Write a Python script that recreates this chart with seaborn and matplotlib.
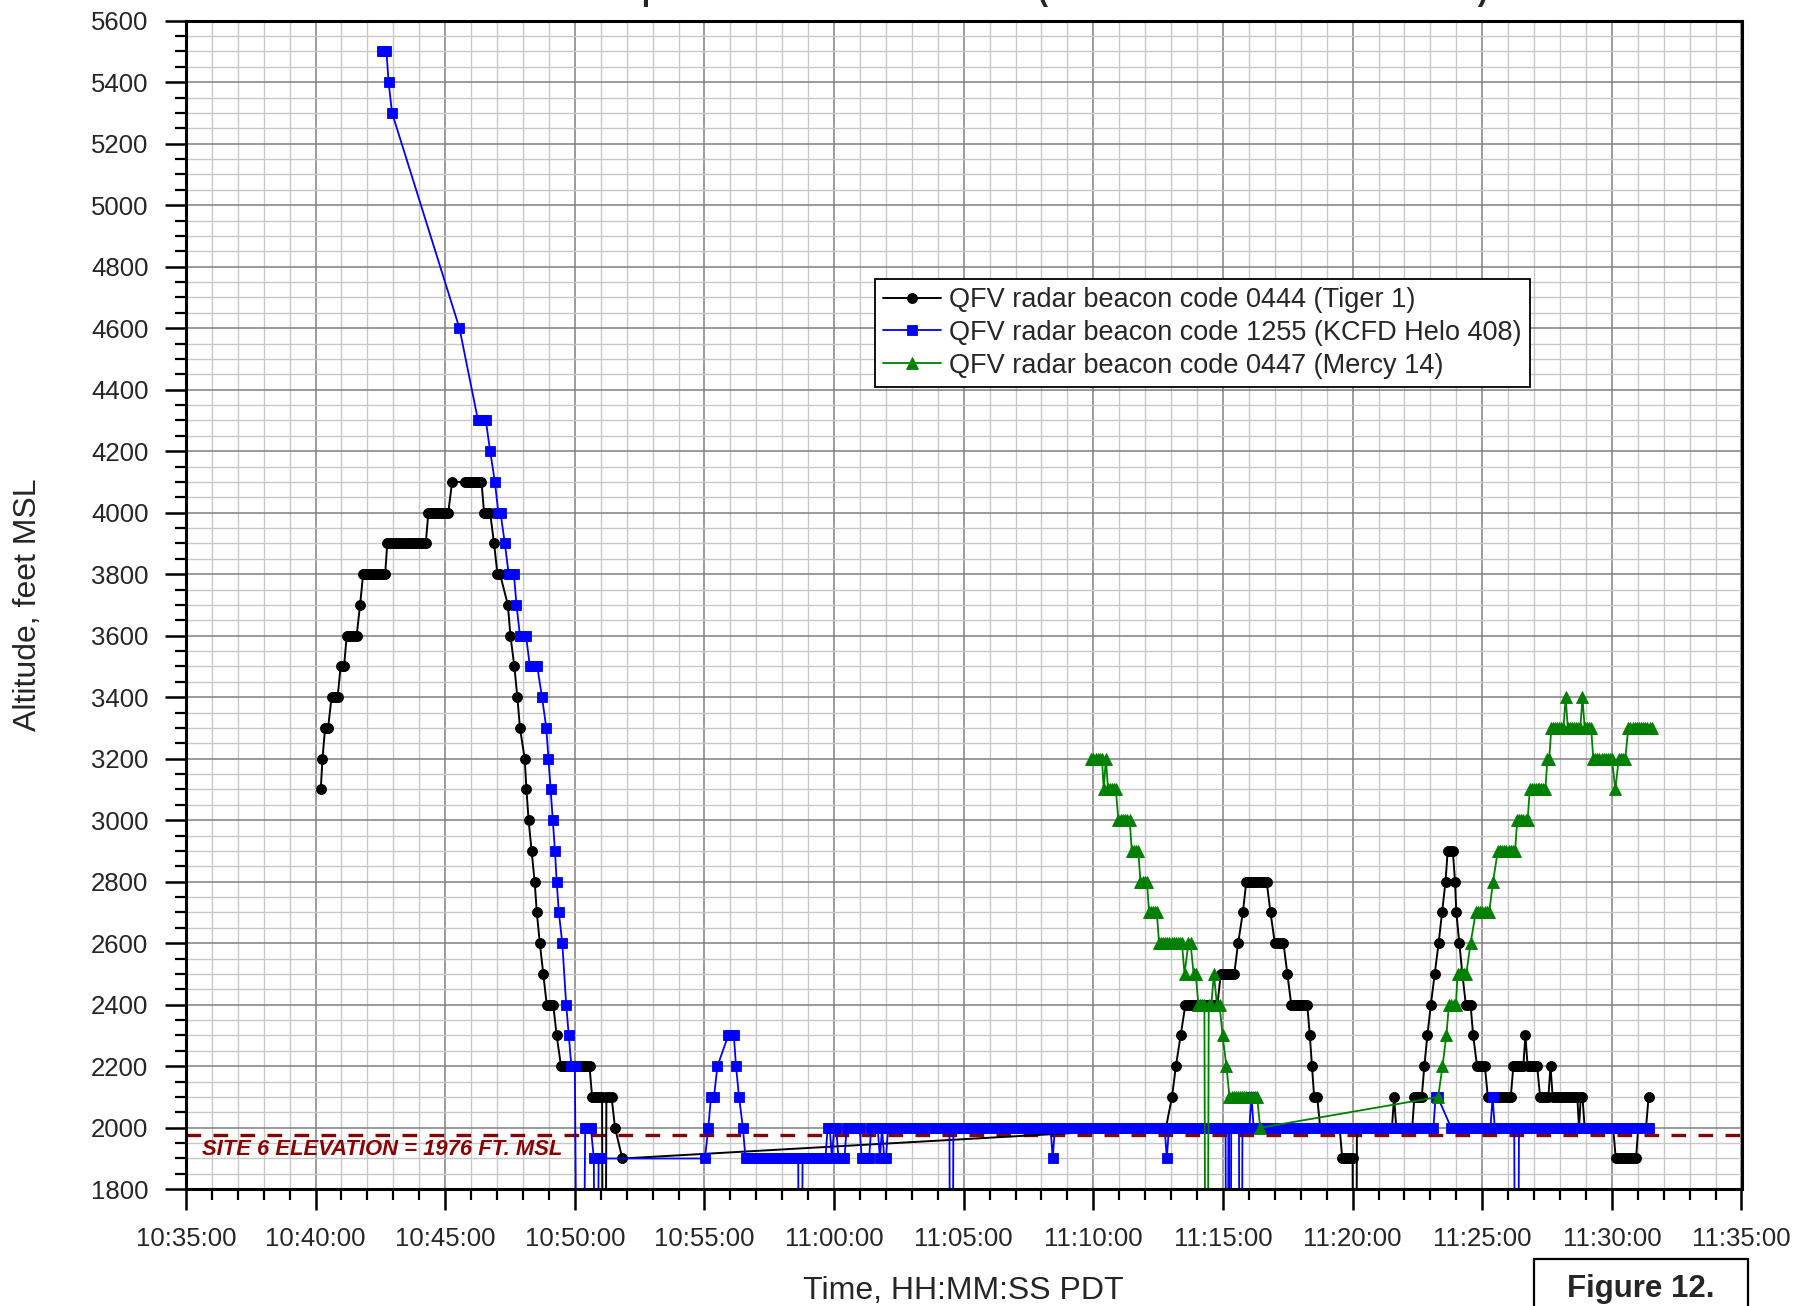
import numpy as np
import matplotlib
matplotlib.use("Agg")
import matplotlib.pyplot as plt
import seaborn as sns
from matplotlib.ticker import MultipleLocator, FuncFormatter
from matplotlib.patches import Rectangle

# ---------------------------------------------------------------------------
# Radar returns, stored as level segments: (first return, last return, altitude ft MSL).
# Returns inside a segment are spaced one antenna scan apart.
# An altitude of 0 marks a return reported without a valid Mode C altitude.
# ---------------------------------------------------------------------------
SCAN_SECONDS = 4.8

tiger1_runs = [
    ("10:40:12", "10:40:12", 3100), ("10:40:16", "10:40:16", 3200),
    ("10:40:22", "10:40:29", 3300), ("10:40:37", "10:40:51", 3400),
    ("10:40:58", "10:41:06", 3500), ("10:41:12", "10:41:35", 3600),
    ("10:41:43", "10:41:43", 3700), ("10:41:50", "10:42:41", 3800),
    ("10:42:46", "10:44:15", 3900), ("10:44:21", "10:45:07", 4000),
    ("10:45:16", "10:45:16", 4100), ("10:45:46", "10:46:24", 4100),
    ("10:46:30", "10:46:44", 4000), ("10:46:53", "10:46:53", 3900),
    ("10:47:01", "10:47:07", 3800), ("10:47:25", "10:47:25", 3700),
    ("10:47:31", "10:47:31", 3600), ("10:47:40", "10:47:40", 3500),
    ("10:47:47", "10:47:47", 3400), ("10:47:53", "10:47:53", 3300),
    ("10:48:04", "10:48:04", 3200), ("10:48:08", "10:48:08", 3100),
    ("10:48:13", "10:48:13", 3000), ("10:48:20", "10:48:20", 2900),
    ("10:48:27", "10:48:27", 2800), ("10:48:32", "10:48:32", 2700),
    ("10:48:39", "10:48:39", 2600), ("10:48:47", "10:48:47", 2500),
    ("10:48:55", "10:49:10", 2400), ("10:49:18", "10:49:18", 2300),
    ("10:49:28", "10:50:34", 2200), ("10:50:40", "10:51:03", 2100),
    ("10:51:08", "10:51:08", 0),    ("10:51:13", "10:51:25", 2100),
    ("10:51:33", "10:51:33", 2000), ("10:51:50", "10:51:50", 1900),
    ("11:12:48", "11:12:48", 2000), ("11:13:02", "11:13:02", 2100),
    ("11:13:11", "11:13:11", 2200), ("11:13:22", "11:13:22", 2300),
    ("11:13:33", "11:14:47", 2400), ("11:14:55", "11:15:26", 2500),
    ("11:15:35", "11:15:35", 2600), ("11:15:46", "11:15:46", 2700),
    ("11:15:54", "11:16:41", 2800), ("11:16:50", "11:16:50", 2700),
    ("11:17:00", "11:17:20", 2600), ("11:17:29", "11:17:29", 2500),
    ("11:17:38", "11:18:15", 2400), ("11:18:21", "11:18:21", 2300),
    ("11:18:26", "11:18:26", 2200), ("11:18:31", "11:18:38", 2100),
    ("11:18:45", "11:19:30", 2000), ("11:19:36", "11:20:00", 1900),
    ("11:20:05", "11:20:05", 0),    ("11:20:10", "11:21:31", 2000),
    ("11:21:36", "11:21:36", 2100), ("11:21:41", "11:22:18", 2000),
    ("11:22:23", "11:22:40", 2100), ("11:22:46", "11:22:46", 2200),
    ("11:22:53", "11:22:53", 2300), ("11:23:01", "11:23:01", 2400),
    ("11:23:10", "11:23:10", 2500), ("11:23:19", "11:23:19", 2600),
    ("11:23:27", "11:23:27", 2700), ("11:23:35", "11:23:35", 2800),
    ("11:23:40", "11:23:52", 2900), ("11:23:57", "11:23:57", 2800),
    ("11:24:00", "11:24:00", 2700), ("11:24:07", "11:24:07", 2600),
    ("11:24:14", "11:24:14", 2500), ("11:24:22", "11:24:33", 2400),
    ("11:24:39", "11:24:39", 2300), ("11:24:48", "11:25:06", 2200),
    ("11:25:13", "11:26:06", 2100), ("11:26:12", "11:26:35", 2200),
    ("11:26:40", "11:26:40", 2300), ("11:26:45", "11:27:07", 2200),
    ("11:27:14", "11:27:33", 2100), ("11:27:38", "11:27:38", 2200),
    ("11:27:43", "11:28:40", 2100), ("11:28:44", "11:28:44", 2000),
    ("11:28:48", "11:28:52", 2100), ("11:28:57", "11:30:03", 2000),
    ("11:30:09", "11:30:56", 1900), ("11:31:01", "11:31:19", 2000),
    ("11:31:25", "11:31:25", 2100),
]

helo408_runs = [
    ("10:42:33", "10:42:44", 5500), ("10:42:49", "10:42:49", 5400),
    ("10:42:57", "10:42:57", 5300), ("10:45:33", "10:45:33", 4600),
    ("10:46:16", "10:46:34", 4300), ("10:46:44", "10:46:44", 4200),
    ("10:46:55", "10:46:55", 4100), ("10:47:03", "10:47:08", 4000),
    ("10:47:18", "10:47:18", 3900), ("10:47:27", "10:47:39", 3800),
    ("10:47:45", "10:47:45", 3700), ("10:47:53", "10:48:07", 3600),
    ("10:48:16", "10:48:33", 3500), ("10:48:44", "10:48:44", 3400),
    ("10:48:54", "10:48:54", 3300), ("10:48:59", "10:48:59", 3200),
    ("10:49:04", "10:49:04", 3100), ("10:49:09", "10:49:09", 3000),
    ("10:49:14", "10:49:14", 2900), ("10:49:18", "10:49:18", 2800),
    ("10:49:23", "10:49:23", 2700), ("10:49:31", "10:49:31", 2600),
    ("10:49:40", "10:49:40", 2400), ("10:49:46", "10:49:46", 2300),
    ("10:49:52", "10:50:00", 2200), ("10:50:12", "10:50:12", 0),
    ("10:50:24", "10:50:37", 2000), ("10:50:44", "10:50:44", 1900),
    ("10:50:49", "10:50:49", 0),    ("10:50:55", "10:51:00", 1900),
    ("10:55:01", "10:55:01", 1900), ("10:55:09", "10:55:09", 2000),
    ("10:55:15", "10:55:22", 2100), ("10:55:30", "10:55:30", 2200),
    ("10:55:55", "10:56:08", 2300), ("10:56:13", "10:56:13", 2200),
    ("10:56:20", "10:56:20", 2100), ("10:56:29", "10:56:29", 2000),
    ("10:56:35", "10:58:37", 1900), ("10:58:42", "10:58:42", 0),
    ("10:58:47", "10:59:40", 1900), ("10:59:45", "10:59:50", 2000),
    ("10:59:55", "10:59:55", 1900), ("11:00:00", "11:00:05", 2000),
    ("11:00:10", "11:00:24", 1900), ("11:00:29", "11:00:59", 2000),
    ("11:01:04", "11:01:21", 1900), ("11:01:26", "11:01:41", 2000),
    ("11:01:46", "11:01:46", 1900), ("11:01:51", "11:01:51", 2000),
    ("11:01:56", "11:02:00", 1900), ("11:02:05", "11:04:27", 2000),
    ("11:04:31", "11:04:31", 0),    ("11:04:36", "11:08:21", 2000),
    ("11:08:26", "11:08:26", 1900), ("11:08:31", "11:12:45", 2000),
    ("11:12:50", "11:12:50", 1900), ("11:12:55", "11:15:06", 2000),
    ("11:15:10", "11:15:10", 0),    ("11:15:13", "11:15:13", 2000),
    ("11:15:16", "11:15:16", 0),    ("11:15:19", "11:15:37", 2000),
    ("11:15:41", "11:15:41", 0),    ("11:15:45", "11:16:01", 2000),
    ("11:16:06", "11:16:06", 2100), ("11:16:11", "11:23:07", 2000),
    ("11:23:12", "11:23:17", 2100), ("11:23:48", "11:25:19", 2000),
    ("11:25:24", "11:25:24", 2100), ("11:25:29", "11:26:14", 2000),
    ("11:26:20", "11:26:20", 0),    ("11:26:25", "11:31:26", 2000),
]

mercy14_runs = [
    ("11:09:55", "11:10:20", 3200), ("11:10:24", "11:10:24", 3100),
    ("11:10:29", "11:10:29", 3200), ("11:10:34", "11:10:52", 3100),
    ("11:10:58", "11:11:24", 3000), ("11:11:29", "11:11:44", 2900),
    ("11:11:49", "11:12:04", 2800), ("11:12:09", "11:12:27", 2700),
    ("11:12:32", "11:13:25", 2600), ("11:13:31", "11:13:31", 2500),
    ("11:13:40", "11:13:45", 2600), ("11:13:52", "11:13:57", 2500),
    ("11:14:03", "11:14:17", 2400), ("11:14:22", "11:14:22", 0),
    ("11:14:27", "11:14:33", 2400), ("11:14:39", "11:14:39", 2500),
    ("11:14:46", "11:14:52", 2400), ("11:14:59", "11:14:59", 2300),
    ("11:15:08", "11:15:08", 2200), ("11:15:15", "11:16:19", 2100),
    ("11:16:26", "11:16:26", 2000), ("11:23:18", "11:23:18", 2100),
    ("11:23:28", "11:23:28", 2200), ("11:23:37", "11:23:37", 2300),
    ("11:23:43", "11:23:59", 2400), ("11:24:03", "11:24:23", 2500),
    ("11:24:33", "11:24:33", 2600), ("11:24:45", "11:25:16", 2700),
    ("11:25:25", "11:25:25", 2800), ("11:25:36", "11:26:16", 2900),
    ("11:26:21", "11:26:45", 3000), ("11:26:50", "11:27:26", 3100),
    ("11:27:31", "11:27:35", 3200), ("11:27:40", "11:28:08", 3300),
    ("11:28:13", "11:28:13", 3400), ("11:28:18", "11:28:47", 3300),
    ("11:28:52", "11:28:52", 3400), ("11:28:57", "11:29:12", 3300),
    ("11:29:17", "11:30:00", 3200), ("11:30:08", "11:30:08", 3100),
    ("11:30:16", "11:30:31", 3200), ("11:30:38", "11:31:32", 3300),
]

series_labels = [
    "QFV radar beacon code 0444 (Tiger 1)",
    "QFV radar beacon code 1255 (KCFD Helo 408)",
    "QFV radar beacon code 0447 (Mercy 14)",
]

site_elevation_ft = 1976
site_label = "SITE 6 ELEVATION = 1976 FT. MSL"
x_start, x_end = "10:35:00", "11:35:00"
y_start, y_end = 1800, 5600
title_text = "Altitude Comparison of Tracked Aircraft (Mode C Radar Beacon Tracks)"
x_title = "Time, HH:MM:SS PDT"
y_title = "Altitude, feet MSL"
figure_tag = "Figure 12."


def hms(s):
    h, m, sec = (int(v) for v in s.split(":"))
    return h * 3600 + m * 60 + sec


def expand(runs):
    """Turn level segments into individual scan returns."""
    t, a = [], []
    for first, last, alt in runs:
        t0, t1 = hms(first), hms(last)
        n = max(1, int(round((t1 - t0) / SCAN_SECONDS)) + 1)
        t.extend(np.linspace(t0, t1, n))
        a.extend([alt] * n)
    return np.array(t), np.array(a)


sns.set_theme(style="white")
plt.rcParams["font.family"] = ["Liberation Sans", "DejaVu Sans"]

fig = plt.figure(figsize=(18, 13.06), dpi=100)
ax = fig.add_axes([0.1033, 0.0894, 0.8642, 0.8948])

styles = [
    dict(color="black", marker="o", markersize=7.2, linewidth=1.4),
    dict(color="#0000ff", marker="s", markersize=6.8, linewidth=1.3),
    dict(color="#008000", marker="^", markersize=8.2, linewidth=1.3),
]
for runs, label, st in zip([tiger1_runs, helo408_runs, mercy14_runs], series_labels, styles):
    t, a = expand(runs)
    sns.lineplot(x=t, y=a, ax=ax, sort=False, estimator=None, label=label,
                 color=st["color"], marker=st["marker"], markersize=st["markersize"],
                 markeredgewidth=0.6, markeredgecolor=st["color"],
                 linewidth=st["linewidth"])

# site elevation reference
ax.axhline(site_elevation_ft, color="#8b0000", linewidth=2.4,
           linestyle=(0, (4.4, 3.7)), zorder=1.5)
ax.text(hms("10:35:37"), 1928, site_label, color="#8b0000", fontsize=15.8,
        fontweight="bold", fontstyle="italic", ha="left", va="center")

ax.set_xlim(hms(x_start), hms(x_end))
ax.set_ylim(y_start, y_end)

ax.xaxis.set_major_locator(MultipleLocator(300))
ax.xaxis.set_minor_locator(MultipleLocator(60))
ax.yaxis.set_major_locator(MultipleLocator(200))
ax.yaxis.set_minor_locator(MultipleLocator(50))
ax.xaxis.set_major_formatter(FuncFormatter(
    lambda v, p: f"{int(v)//3600:02d}:{int(v)%3600//60:02d}:{int(v)%60:02d}"))

ax.set_axisbelow(True)
ax.grid(which="minor", color="#c8c8c8", linewidth=1.0)
ax.grid(which="major", color="#808080", linewidth=1.1)

ax.tick_params(which="major", direction="out", length=15, width=1.8,
               labelsize=18.5, color="black", bottom=True, left=True,
               top=False, right=False)
ax.tick_params(axis="x", which="major", pad=12)
ax.tick_params(axis="y", which="major", pad=12)
ax.tick_params(which="minor", direction="out", length=8, width=1.6,
               color="black", bottom=True, left=True, top=False, right=False)
for sp in ax.spines.values():
    sp.set_visible(True)
    sp.set_color("black")
    sp.set_linewidth(2.2)

ax.set_xlabel(x_title, fontsize=23)
ax.set_ylabel(y_title, fontsize=23)
ax.xaxis.set_label_coords(0.5, -0.074)
ax.yaxis.set_label_coords(-0.092, 0.5)

leg = ax.legend(loc="upper left", bbox_to_anchor=(0.4428, 0.779), borderaxespad=0,
                fontsize=19.5, frameon=True, fancybox=False, framealpha=1,
                edgecolor="black", handlelength=2.15, handletextpad=0.3,
                borderpad=0.3, labelspacing=0.25)
leg.get_frame().set_linewidth(1.3)

# title sits at the top edge of the page
fig.text(0.539, 1.0, title_text, ha="center", va="baseline", fontsize=22,
         fontweight="bold")

# figure tag box at bottom right
fig.add_artist(Rectangle((0.8521, -0.05), 0.1192, 0.0857, transform=fig.transFigure,
                         fill=False, edgecolor="black", linewidth=1.6, clip_on=False))
fig.text(0.9117, 0.013, figure_tag, ha="center", va="center", fontsize=22.5,
         fontweight="bold")

fig.savefig("out.png", dpi=100)
